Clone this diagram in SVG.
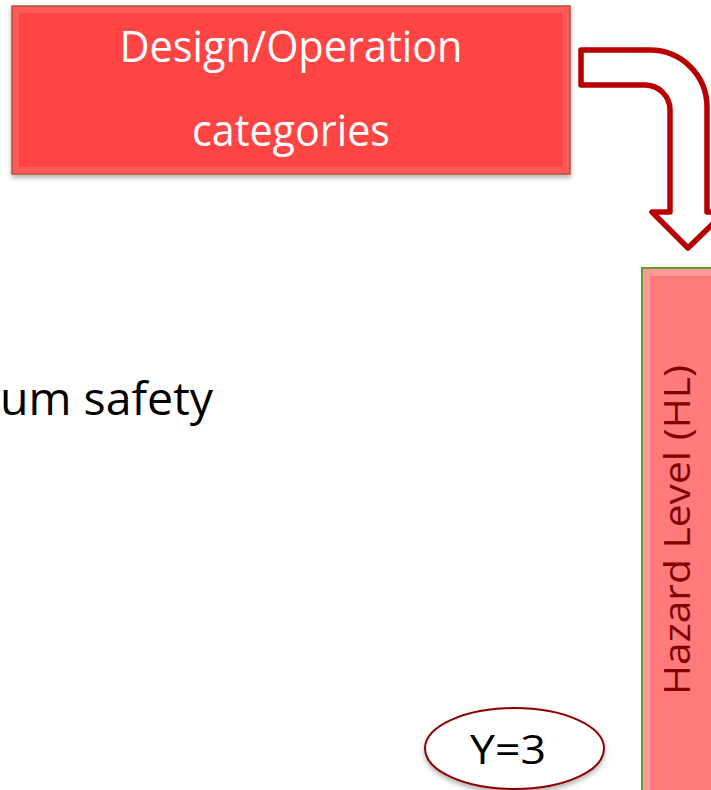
<svg xmlns="http://www.w3.org/2000/svg" width="711" height="790" viewBox="0 0 711 790">
  <defs>
    <filter id="sh" x="-20%" y="-20%" width="140%" height="150%">
      <feDropShadow dx="0" dy="3" stdDeviation="2.5" flood-color="#000" flood-opacity="0.3"/>
    </filter>
    <style>
      .t { font-family: "Open Sans", "Liberation Sans", sans-serif; }
    </style>
  </defs>
  <rect width="711" height="790" fill="#ffffff"/>

  <g id="design-operation">
    <rect x="12" y="6" width="558" height="168" fill="#ff5a5a" stroke="#b5523b" stroke-width="1.5" filter="url(#sh)"/>
    <rect x="19" y="13" width="544" height="154" fill="#ff4444"/>
    <text class="t" x="291" y="62" font-size="43" fill="#ffffff" text-anchor="middle" textLength="343" lengthAdjust="spacingAndGlyphs">Design/Operation</text>
    <text class="t" x="291" y="146" font-size="43" fill="#ffffff" text-anchor="middle" textLength="198" lengthAdjust="spacingAndGlyphs">categories</text>
  </g>

  <g id="connectors">
    <path d="M 581 50 L 650 50 A 57 57 0 0 1 707 107 L 707 212 L 725 212 L 688 248 L 652 212 L 670 212 L 670 110 A 25 25 0 0 0 645 85 L 581 85 Z" fill="#ffffff" stroke="#b80000" stroke-width="5.5" stroke-linejoin="round"/>
  </g>

  <g id="hazard-level">
    <rect x="642" y="268" width="100" height="540" fill="#ff9a9a" stroke="#6a9c2a" stroke-width="2"/>
    <rect x="650" y="276" width="84" height="524" fill="#ff7b7b"/>
    <text class="t" transform="translate(690 530) rotate(-90)" x="0" y="0" font-size="37" fill="#800000" text-anchor="middle" textLength="330" lengthAdjust="spacingAndGlyphs">Hazard Level (HL)</text>
  </g>

  <g id="safety-text">
    <text class="t" x="0" y="415" font-size="45" fill="#000000" textLength="213" lengthAdjust="spacingAndGlyphs">um safety</text>
  </g>

  <g id="y3">
    <ellipse cx="514.5" cy="748.5" rx="89.5" ry="40.5" fill="#ffffff" stroke="#8b0000" stroke-width="2" filter="url(#sh)"/>
    <text class="t" x="508" y="764" font-size="40" fill="#000000" text-anchor="middle" textLength="76" lengthAdjust="spacingAndGlyphs">Y=3</text>
  </g>
</svg>
